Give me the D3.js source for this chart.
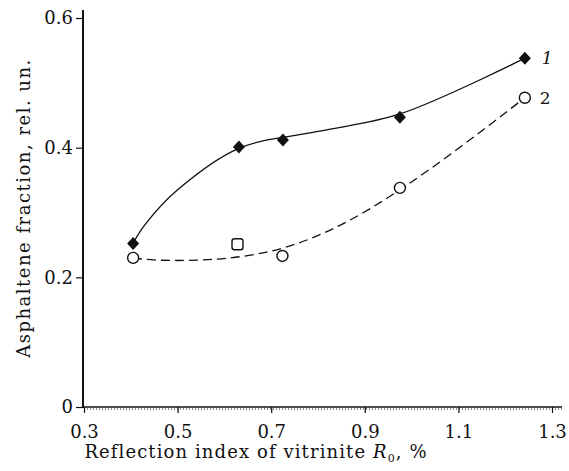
<!DOCTYPE html>
<meta charset="utf-8">
<head>
    <style>
        body, html {
            margin: 0;
            background: white;
            width: 100%;
            height: 100%;
        }
        svg text {
            font-family: "DejaVu Serif", serif;
            fill: #111;
        }
    </style>
    <script src="https://cdn.jsdelivr.net/npm/d3@7"></script>
</head>
<body>
<div id="chart"></div>

<script>
    // measured points, curve 1 (diamonds) and curve 2 (circles)
    var xs1 = [0.405, 0.631, 0.725, 0.975, 1.242];
    var ys1 = [0.252, 0.401, 0.412, 0.447, 0.538];
    var xs2 = [0.405, 0.628, 0.724, 0.975, 1.242];
    var ys2 = [0.230, 0.251, 0.233, 0.338, 0.477];
    var shape2 = ["circle", "square", "circle", "circle", "circle"];
    // trend lines
    var fitX1 = [0.405, 0.43, 0.50, 0.631, 0.80, 0.975, 1.242];
    var fitY1 = [0.253, 0.281, 0.335, 0.399, 0.425, 0.452, 0.538];
    var fitX2 = [0.405, 0.50, 0.724, 0.975, 1.242];
    var fitY2 = [0.230, 0.226, 0.245, 0.335, 0.477];

    var xTicks = [0.3, 0.5, 0.7, 0.9, 1.1, 1.3];
    var yTicks = [0, 0.2, 0.4, 0.6];

    var width = 569, height = 471;
    var svg = d3.select("#chart").append("svg")
        .attr("width", width)
        .attr("height", height);

    var x = d3.scaleLinear().domain([0.3, 1.3]).range([84, 552]);
    var y = d3.scaleLinear().domain([0, 0.6]).range([407, 18]);

    var pts1 = xs1.map(function(d, i){ return [d, ys1[i]]; });
    var pts2 = xs2.map(function(d, i){ return {x: d, y: ys2[i], s: shape2[i]}; });
    var fit1 = fitX1.map(function(d, i){ return [d, fitY1[i]]; });
    var fit2 = fitX2.map(function(d, i){ return [d, fitY2[i]]; });

    // axes
    var xAxis = d3.axisBottom(x).tickValues(xTicks).tickSize(6)
        .tickFormat(d3.format(".1f"));
    var gx = svg.append("g").attr("transform", "translate(0,407)").call(xAxis);
    gx.select(".domain").remove();
    gx.append("line").attr("x1", 83).attr("x2", 562).attr("y1", 0).attr("y2", 0)
        .attr("stroke", "#111").attr("stroke-width", 1.5);
    gx.append("line").attr("x1", 84).attr("x2", 562).attr("y1", 2).attr("y2", 2)
        .attr("stroke", "#111").attr("stroke-width", 1).attr("stroke-dasharray", "1,2");
    gx.selectAll(".tick line").attr("stroke", "#111").attr("stroke-width", 1.2);
    gx.selectAll(".tick text").attr("font-size", 18).attr("dy", null).attr("y", 31)
        .attr("font-family", "DejaVu Serif");

    var yAxis = d3.axisLeft(y).tickValues(yTicks).tickSize(7)
        .tickFormat(function(d){ return d === 0 ? "0" : d3.format(".1f")(d); });
    var gy = svg.append("g").attr("transform", "translate(83,0)").call(yAxis);
    gy.select(".domain").remove();
    gy.append("line").attr("x1", 0).attr("x2", 0).attr("y1", 10).attr("y2", 408)
        .attr("stroke", "#111").attr("stroke-width", 2);
    gy.selectAll(".tick line").attr("stroke", "#111").attr("stroke-width", 1.2);
    gy.selectAll(".tick text").attr("font-size", 18).attr("x", -10)
        .attr("font-family", "DejaVu Serif");

    // curves
    var line = d3.line()
        .x(function(d){ return x(d[0]); })
        .y(function(d){ return y(d[1]); });

    svg.append("path").datum(fit1).attr("d", line.curve(d3.curveCatmullRom.alpha(0.5)))
        .attr("fill", "none").attr("stroke", "#111").attr("stroke-width", 1.3);
    svg.append("path").datum(fit2).attr("d", line.curve(d3.curveNatural))
        .attr("fill", "none").attr("stroke", "#111").attr("stroke-width", 1.3)
        .attr("stroke-dasharray", "9,5");

    // markers
    svg.selectAll(".dia").data(pts1).enter().append("path")
        .attr("class", "dia")
        .attr("transform", function(d){ return "translate(" + x(d[0]) + "," + y(d[1]) + ")"; })
        .attr("d", "M0,-6.5L6,0L0,6.5L-6,0Z")
        .attr("fill", "#111");

    var m2 = svg.selectAll(".m2").data(pts2).enter().append("g")
        .attr("class", "m2")
        .attr("transform", function(d){ return "translate(" + x(d.x) + "," + y(d.y) + ")"; });
    m2.filter(function(d){ return d.s === "circle"; }).append("circle")
        .attr("r", 5.5).attr("fill", "white").attr("stroke", "#111").attr("stroke-width", 1.4);
    m2.filter(function(d){ return d.s === "square"; }).append("rect")
        .attr("x", -5.5).attr("y", -5.5).attr("width", 11).attr("height", 11)
        .attr("rx", 2.5).attr("fill", "white").attr("stroke", "#111").attr("stroke-width", 1.4);

    // series numbers
    svg.append("text").attr("x", x(xs1[4]) + 17).attr("y", y(ys1[4]) + 6)
        .attr("font-size", 17).attr("font-style", "italic").text("1");
    svg.append("text").attr("x", x(xs2[4]) + 15).attr("y", y(ys2[4]) + 6)
        .attr("font-size", 17).text("2");

    // axis titles
    var xl = svg.append("text").attr("x", 256).attr("y", 458)
        .attr("text-anchor", "middle").attr("font-size", 18)
        .attr("letter-spacing", 1.1);
    xl.append("tspan").text("Reflection index  of  vitrinite ");
    xl.append("tspan").attr("font-style", "italic").text("R");
    xl.append("tspan").attr("font-size", 11).attr("dy", 4).text("0");
    xl.append("tspan").attr("dy", -4).text(", %");

    svg.append("text")
        .attr("transform", "translate(30,208) rotate(-90)")
        .attr("text-anchor", "middle").attr("font-size", 18)
        .attr("letter-spacing", 1.5)
        .text("Asphaltene fraction, rel. un.");
</script>
</body>
